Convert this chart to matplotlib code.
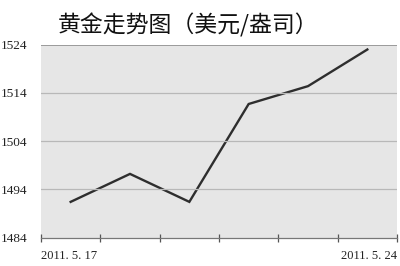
import matplotlib
matplotlib.use("Agg")
import matplotlib.pyplot as plt
import numpy as np

# gold price, USD/oz, trading days 2011.5.17 - 2011.5.24
dates = ["2011. 5. 17", "5.18", "5.19", "5.20", "5.23", "2011. 5. 24"]
prices = [1491.4, 1497.2, 1491.4, 1511.7, 1515.4, 1523.0]
y_ticks = [1484, 1494, 1504, 1514, 1524]
title = "黄金走势图（美元/盎司）"

fig = plt.figure(figsize=(4.0, 2.66), dpi=100, facecolor="white")
ax = fig.add_axes([0.1025, 0.107, 0.89, 0.725])
ax.set_facecolor("#e6e6e6")

x = np.arange(len(prices))
ax.plot(x, prices, color="#2e2e2e", linewidth=1.7, solid_joinstyle="miter")

ax.set_xlim(-0.5, len(prices) - 0.5)
ax.set_ylim(y_ticks[0], y_ticks[-1])
ax.set_yticks(y_ticks)
ax.set_yticklabels([str(v) for v in y_ticks], family="Liberation Serif", fontsize=9.5, color="#222222")
for v in y_ticks[1:-1]:
    ax.axhline(v, color="#b8b8b8", linewidth=0.9)
ax.axhline(y_ticks[-1], color="#9a9a9a", linewidth=1.4)

# category boundary ticks, labels only at both ends
ax.set_xticks(np.arange(-0.5, len(prices)))
ax.set_xticklabels([])
ax.tick_params(axis="x", direction="inout", length=6, width=0.9, color="#555555")
ax.tick_params(axis="y", length=0, pad=10)
ax.text(0, -0.097, dates[0], transform=ax.transAxes, ha="left", va="center",
        family="Liberation Serif", fontsize=9, color="#222222")
ax.text(1, -0.097, dates[-1], transform=ax.transAxes, ha="right", va="center",
        family="Liberation Serif", fontsize=9, color="#222222")

for s in ["top", "right", "left"]:
    ax.spines[s].set_visible(False)
ax.spines["bottom"].set_color("#777777")
ax.spines["bottom"].set_linewidth(0.9)

fig.text(0.145, 0.905, title, family=["Noto Sans CJK SC", "DejaVu Sans"],
         fontsize=16.5, ha="left", va="center", color="#111111")

fig.savefig("out.png", dpi=100, facecolor="white")
